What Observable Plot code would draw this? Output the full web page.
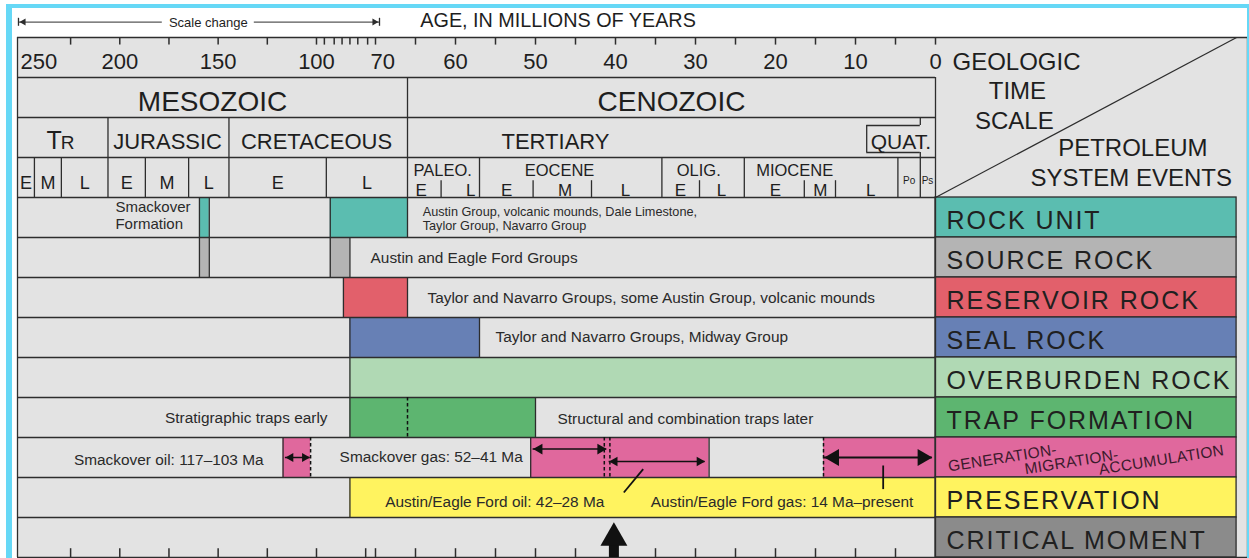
<!DOCTYPE html>
<html><head><meta charset="utf-8">
<script src="https://cdn.jsdelivr.net/npm/d3@7"></script>
<script src="https://cdn.jsdelivr.net/npm/@observablehq/plot@0.6"></script>
<style>
html,body{margin:0;padding:0;background:#fff;width:1249px;height:558px;overflow:hidden;}
#chart{position:absolute;left:0;top:0;}
#frame{position:absolute;left:6px;top:4px;width:1235px;height:600px;border-left:6px solid #66d8f6;border-top:4px solid #66d8f6;border-right:2px solid #66d8f6;pointer-events:none;}
g[aria-description="legend-label"] text{letter-spacing:1.95px;}
g[aria-description="gma-label"] text{letter-spacing:0.3px;}
</style></head>
<body><div id="chart"></div><div id="frame"></div>
<script>
// ================= DATA (ages in Ma) =================
const axisTickAges = [225,200,175,150,125,100,96,91,87,83,79,74,70,65,60,55,50,45,40,35,30,25,20,15,10,5,0];
const bottomTickAges = [225,200,175,150,125,100,75,70,65,60,55,50,45,40,35,30,25,20,15,10,5];
const axisLabelValues = [250,200,150,100,70,60,50,40,30,20,10,0];
const scaleChangeSpan = [251.5,69.5];

const eraNames = ["MESOZOIC","CENOZOIC"];
const eraStart = [252,66];
const eraEnd = [66,0];

const periodNames = ["TR","JURASSIC","CRETACEOUS","TERTIARY"];
const periodStart = [252,206,144.5,66];
const periodEnd = [206,144.5,66,1.9];
const periodLabelAge = [230,175.7,100,47.5];
const quatName = "QUAT.";
const quatBoxAge = 8.6;

const mesoEpochNames = ["E","M","L","E","M","L","E","L"];
const mesoEpochStart = [252,243.4,229.7,206,187,165,144.5,95];
const mesoEpochEnd = [243.4,229.7,206,187,165,144.5,95,66];

const cenoEpochNames = ["PALEO.","EOCENE","OLIG.","MIOCENE","Po","Ps"];
const cenoEpochStart = [66,57,34.2,23.9,4.7,1.9];
const cenoEpochEnd = [57,34.2,23.9,4.7,1.9,0];
const cenoEpochLabelAge = [61.6,47,29.6,17.6,3.3,1.0];
const subEpochNames = ["E","L","E","M","L","E","L","E","M","L"];
const subEpochLabelAge = [64.3,58.1,53.6,46.3,38.75,31.9,26.75,20,14.4,8.1];
const subEpochBoundaryAge = [61.8,50.3,43,29.5,16.4,12.5];

const eventNames = ["ROCK UNIT","SOURCE ROCK","RESERVOIR ROCK","SEAL ROCK","OVERBURDEN ROCK","TRAP FORMATION","GENERATION-MIGRATION-ACCUMULATION","PRESERVATION","CRITICAL MOMENT"];
const eventColors = ["#5bbdb0","#b4b4b4","#e2606b","#6780b5","#b0d9b4","#5db570","#e0689d","#fff35f","#8b8b8b"];
const gmaWords = ["GENERATION-","MIGRATION-","ACCUMULATION"];

const barEvent = [0,0,1,1,2,3,4,5,6,6,6,7];
const barStart = [159.5,93,159.5,93,86.3,83,83,83,117,50.6,14,83];
const barEnd   = [154.5,66,154.5,83,66,57,0,50,103,28.3,0,0];

const dashedEvent = [5,6,6,6,6];
const dashedAge = [66,103,41.4,40.7,14];

const arrowFrom = [115.8,50.3,40.8,13.9];
const arrowTo   = [103.3,41.1,28.8,0.4];

const noteTexts = ["Smackover\nFormation","Austin Group, volcanic mounds, Dale Limestone,\nTaylor Group, Navarro Group","Austin and Eagle Ford Groups","Taylor and Navarro Groups, some Austin Group, volcanic mounds","Taylor and Navarro Groups, Midway Group","Stratigraphic traps early","Structural and combination traps later","Smackover oil: 117–103 Ma","Smackover gas: 52–41 Ma","Austin/Eagle Ford oil: 42–28 Ma","Austin/Eagle Ford gas: 14 Ma–present"];
const noteEvent = [0,0,1,2,3,5,5,6,6,7,7];
const noteAge = [202.2,64.1,72.5,63.5,55,94.4,47.25,126.9,51.6,41.4,35.6];

const criticalMomentAge = 40.2;
const leaderFromAge = [38.96,6.54];
const leaderToAge = [36.54,6.54];

// ================= LAYOUT =================
const FONT = "Liberation Sans, Arial, Helvetica, sans-serif";
const INK = "#1e1e1e", LINE = "#2d2d2d", LW = 1.3, BG = "#e3e3e3";
const T0 = 252, COL_END = -40, BOX_END = -38.6, ROW0 = 4;
const xDomain = [252,70,0,-40], xRange = [17,375,935,1247];
const xs = Plot.scale({x:{type:"linear", domain:xDomain, range:xRange}});
const px = a => xs.apply(a), ax = p => xs.invert(p);

const noteAnchor = ["start","start","start","start","start","end","start","end","end","end","start"];
const noteDy = [-0.05,0.025,0,0,-0.025,0,0.025,0.05,-0.025,0.1,0.1];
const noteSize = [15,12.7,15.4,15.4,15.4,15.4,15.4,15.4,15.4,15.4,15.4];
const arrowY = [10.5,10.29,10.6,10.5];
const arrowHeadR = [3.4,4,3.6,6.3];
const arrowW = [1.5,1.5,1.3,2.2];
const leaderY1 = [11.375,10.7], leaderY2 = [10.79,11.29];

// ================= MARKS =================
const T = (data, o) => Plot.text(data, {fontFamily: FONT, fill: INK, ...o});
const M = [];

M.push(Plot.rect([0], {x1:T0, x2:COL_END, y1:0, y2:13, fill:BG}));

const bars = barEvent.map((e,i)=>({event:e, start:barStart[i], end:barEnd[i]}));
M.push(Plot.rect(bars, {x1:"start", x2:"end", y1:d=>d.event+ROW0, y2:d=>d.event+ROW0+1, fill:d=>eventColors[d.event]}));

M.push(Plot.rect(eventNames.map((n,i)=>({i})), {x1:0, x2:BOX_END, y1:d=>d.i+ROW0, y2:d=>d.i+ROW0+1, fill:d=>eventColors[d.i], stroke:LINE, strokeWidth:LW}));

// grid lines
const hLines = [{y:0,x1:T0,x2:COL_END},{y:13,x1:T0,x2:COL_END}, ...d3.range(1,13).map(y=>({y,x1:T0,x2:0})),
  {y:2.2,x1:quatBoxAge,x2:periodEnd[3]},{y:2.875,x1:quatBoxAge,x2:periodEnd[3]}];
M.push(Plot.ruleY(hLines, {y:"y", x1:"x1", x2:"x2", stroke:LINE, strokeWidth:LW}));

const vLines = [
  {x:T0,y1:0,y2:13},{x:COL_END,y1:0,y2:13},{x:0,y1:1,y2:13},
  {x:eraEnd[0],y1:1,y2:4},
  ...periodStart.slice(1,3).map(a=>({x:a,y1:2,y2:4})),
  ...mesoEpochStart.slice(1).filter(a=>!periodStart.includes(a)).map(a=>({x:a,y1:3,y2:4})),
  ...cenoEpochStart.slice(1).map(a=>({x:a,y1:3,y2:4})),
  ...subEpochBoundaryAge.map(a=>({x:a,y1:3.58,y2:4})),
  {x:periodEnd[3],y1:2,y2:2.2},{x:periodEnd[3],y1:2.875,y2:3},{x:quatBoxAge,y1:2.2,y2:2.875}
];
M.push(Plot.ruleX(vLines, {x:"x", y1:"y1", y2:"y2", stroke:LINE, strokeWidth:LW}));

// bar edges
const isDashed = (e,a) => dashedEvent.some((de,i)=>de===e && dashedAge[i]===a);
const solidEdges = [];
bars.forEach(b => [b.start,b.end].forEach(a => { if (a!==0 && !isDashed(b.event,a)) solidEdges.push({event:b.event, age:a}); }));
M.push(Plot.ruleX(solidEdges, {x:"age", y1:d=>d.event+ROW0, y2:d=>d.event+ROW0+1, stroke:LINE, strokeWidth:LW}));
M.push(Plot.ruleX(dashedAge.map((a,i)=>({age:a, event:dashedEvent[i]})), {x:"age", y1:d=>d.event+ROW0, y2:d=>d.event+ROW0+1, stroke:"#111", strokeWidth:1.5, strokeDasharray:"3.5,2.5"}));

// diagonal in header of label column
M.push(Plot.link([0], {x1:0, y1:ROW0, x2:BOX_END, y2:0, stroke:LINE, strokeWidth:1.2}));

// axis ticks
M.push(Plot.ruleX(axisTickAges, {x:d=>d, y1:0, y2:0.19, stroke:LINE, strokeWidth:1.5}));
M.push(Plot.ruleX(bottomTickAges, {x:d=>d, y1:12.78, y2:13, stroke:LINE, strokeWidth:1.5}));
// axis labels
M.push(T(axisLabelValues.filter(v=>v!==250 && v!==70), {x:d=>d, y:0.775, text:d=>String(d), fontSize:22, lineAnchor:"bottom"}));
M.push(T([250], {x:d=>d, y:0.775, text:d=>String(d), fontSize:22, lineAnchor:"bottom", textAnchor:"start", dx:-1}));
M.push(T([70], {x:d=>d, y:0.775, text:d=>String(d), fontSize:22, lineAnchor:"bottom", textAnchor:"start", dx:-5}));

// title and scale change
M.push(T(["AGE, IN MILLIONS OF YEARS"], {x:64.4, y:-0.275, text:d=>d, fontSize:19.8, textAnchor:"start", lineAnchor:"bottom"}));
const scLabelAge = 155, scGap = 46;
M.push(Plot.ruleY([
  {x1:scaleChangeSpan[0], x2:ax(px(scLabelAge)-scGap)},
  {x1:ax(px(scLabelAge)+scGap), x2:scaleChangeSpan[1]}], {y:-0.385, x1:"x1", x2:"x2", stroke:LINE, strokeWidth:1}));
M.push(Plot.ruleX(scaleChangeSpan, {x:d=>d, y1:-0.48, y2:-0.28, stroke:LINE, strokeWidth:1.3}));
M.push(Plot.dot([{x:ax(px(scaleChangeSpan[0])+1+1.555*2.6), rot:-90},{x:ax(px(scaleChangeSpan[1])-1-1.555*2.6), rot:90}], {x:"x", y:-0.385, r:2.6, symbol:"triangle", rotate:"rot", fill:LINE}));
M.push(T(["Scale change"], {x:scLabelAge, y:-0.2625, text:d=>d, fontSize:13, lineAnchor:"bottom"}));

// right header texts
M.push(T(["GEOLOGIC"], {x:-2.18, y:0.8, text:d=>d, fontSize:24, textAnchor:"start", lineAnchor:"bottom"}));
M.push(T(["TIME"], {x:-10.5, y:1.525, text:d=>d, fontSize:24, lineAnchor:"bottom"}));
M.push(T(["SCALE"], {x:-10.1, y:2.275, text:d=>d, fontSize:24, lineAnchor:"bottom"}));
M.push(T(["PETROLEUM"], {x:-25.3, y:2.95, text:d=>d, fontSize:24, lineAnchor:"bottom"}));
M.push(T(["SYSTEM EVENTS"], {x:-25.1, y:3.7, text:d=>d, fontSize:24, lineAnchor:"bottom"}));

// eras
const mid = (a,b) => ax((px(a)+px(b))/2);
M.push(T(eraNames.map((n,i)=>({n, x:mid(eraStart[i],eraEnd[i])})), {x:"x", y:1.825, text:"n", fontSize:28, lineAnchor:"bottom"}));
// periods
const periods = periodNames.map((n,i)=>({n, x:periodLabelAge[i]}));
M.push(T(periods.filter(p=>p.n!=="TR"), {x:"x", y:2.775, text:"n", fontSize:22, lineAnchor:"bottom"}));
M.push(T(periods.filter(p=>p.n==="TR"), {x:"x", y:2.775, text:d=>d.n[0], fontSize:25, lineAnchor:"bottom", textAnchor:"end", dx:1}));
M.push(T(periods.filter(p=>p.n==="TR"), {x:"x", y:2.775, text:d=>d.n.slice(1), fontSize:19, lineAnchor:"bottom", textAnchor:"start", dx:0}));
M.push(T([quatName], {x:quatBoxAge, y:2.775, text:d=>d, fontSize:21, lineAnchor:"bottom", textAnchor:"start", dx:4}));
// epochs
M.push(T(mesoEpochNames.map((n,i)=>({n, x:mid(mesoEpochStart[i],mesoEpochEnd[i])})), {x:"x", y:3.775, text:"n", fontSize:18, lineAnchor:"bottom"}));
M.push(T(cenoEpochNames.map((n,i)=>({n, x:cenoEpochLabelAge[i]})).filter(d=>d.n.length>2), {x:"x", y:3.45, text:"n", fontSize:16.5, lineAnchor:"bottom"}));
M.push(T(cenoEpochNames.map((n,i)=>({n, x:cenoEpochLabelAge[i]})).filter(d=>d.n.length<=2), {x:"x", y:3.65, text:"n", fontSize:10, lineAnchor:"bottom"}));
M.push(T(subEpochNames.map((n,i)=>({n, x:subEpochLabelAge[i]})), {x:"x", y:3.95, text:"n", fontSize:17, lineAnchor:"bottom"}));

// notes in event rows
const notes = noteTexts.map((t,i)=>({t, x:noteAge[i], y:noteEvent[i]+ROW0+0.5+noteDy[i], a:noteAnchor[i], s:noteSize[i]}));
for (const s of [...new Set(noteSize)]) for (const a of ["start","end"]) {
  const sub = notes.filter(n=>n.s===s && n.a===a);
  if (sub.length) M.push(T(sub, {x:"x", y:"y", text:"t", fontSize:s, textAnchor:a, lineHeight:1.12, fill:"#2a2a2a"}));
}

// arrows in generation row
const arrows = arrowFrom.map((f,i)=>({from:f, to:arrowTo[i], y:arrowY[i], r:arrowHeadR[i], w:arrowW[i]}));
arrows.forEach(a => {
  M.push(Plot.ruleY([a], {y:"y", x1:"from", x2:"to", stroke:"#111", strokeWidth:a.w}));
  M.push(Plot.dot([{x:ax(px(a.from)+1.555*a.r), rot:-90},{x:ax(px(a.to)-1.555*a.r), rot:90}], {x:"x", y:a.y, r:a.r, rotate:"rot", symbol:"triangle", fill:"#111"}));
});
// leader lines
M.push(Plot.link(leaderFromAge.map((f,i)=>({x1:f, x2:leaderToAge[i], y1:leaderY1[i], y2:leaderY2[i]})), {x1:"x1", x2:"x2", y1:"y1", y2:"y2", stroke:"#111", strokeWidth:1.8}));

// critical moment arrow
M.push(Plot.ruleX([criticalMomentAge], {x:d=>d, y1:12.68, y2:13, stroke:"#111", strokeWidth:10}));
M.push(Plot.dot([criticalMomentAge], {x:d=>d, y:12.51, r:10, symbol:"triangle", fill:"#111"}));

// legend labels
M.push(T(eventNames.map((n,i)=>({n,i})).filter(d=>d.i!==6), {x:-1.41, y:d=>d.i+ROW0+0.58, text:"n", fontSize:25, textAnchor:"start", fill:"#202020", ariaDescription:"legend-label"}));
const gmaX = [-8.59,-17.44,-28.97], gmaY = [10.515,10.61,10.56];
M.push(T(gmaWords.map((w,i)=>({w, x:gmaX[i], y:gmaY[i]})), {x:"x", y:"y", text:"w", fontSize:15.5, rotate:-9, fill:"#3b1a2c", ariaDescription:"gma-label"}));

const chart = Plot.plot({
  width:1249, height:558, margin:0,
  x:{type:"linear", domain:xDomain, range:xRange, axis:null},
  y:{type:"linear", domain:[0,13], range:[37,557], axis:null},
  color:{type:"identity"},
  style:{fontFamily:FONT, background:"white"},
  marks:M
});
document.getElementById("chart").appendChild(chart);
</script>
</body></html>
